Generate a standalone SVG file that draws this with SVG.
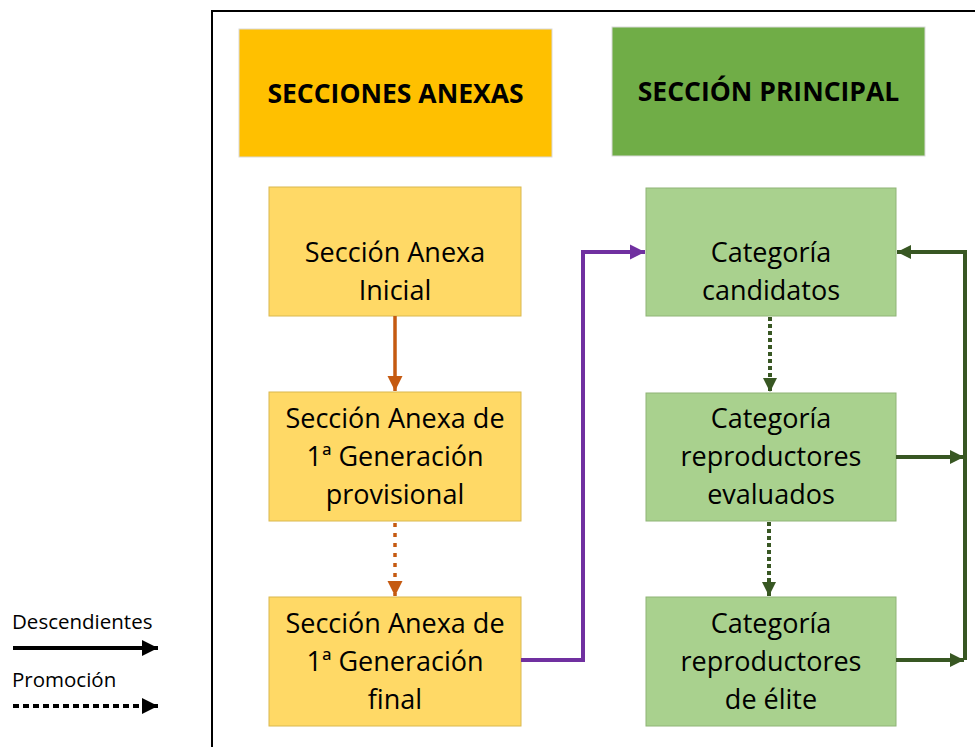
<svg xmlns="http://www.w3.org/2000/svg" width="975" height="747" viewBox="0 0 975 747">
<style>
text{font-family:"Open Sans","Liberation Sans",sans-serif;fill:#000}
.t{font-size:27px;text-anchor:middle}
.h{font-size:26.5px;font-weight:bold;text-anchor:middle}
.l{font-size:20.5px}
.y{fill:#FFD966;stroke:#D9B84F;stroke-width:1}
.g{fill:#A9D18E;stroke:#8FB476;stroke-width:1}
</style>
<defs>
<marker id="mo" viewBox="0 0 10 10" refX="10" refY="5" markerWidth="4.3" markerHeight="4.3" markerUnits="strokeWidth" orient="auto"><path d="M0,0L10,5L0,10z" fill="#C55A11"/></marker>
<marker id="mp" viewBox="0 0 10 10" refX="10" refY="5" markerWidth="3.8" markerHeight="3.8" markerUnits="strokeWidth" orient="auto"><path d="M0,0L10,5L0,10z" fill="#7030A0"/></marker>
<marker id="mg" viewBox="0 0 10 10" refX="10" refY="5" markerWidth="3.6" markerHeight="3.6" markerUnits="strokeWidth" orient="auto"><path d="M0,0L10,5L0,10z" fill="#385723"/></marker>
<marker id="mb" viewBox="0 0 10 10" refX="10" refY="5" markerWidth="4" markerHeight="4" markerUnits="strokeWidth" orient="auto"><path d="M0,0L10,5L0,10z" fill="#000"/></marker>
</defs>
<rect x="212" y="11" width="800" height="800" fill="none" stroke="#000" stroke-width="2"/>
<g id="anexas">
<rect x="239" y="29" width="313" height="128" fill="#FFC000" stroke="#D9D9D9"/>
<text class="h" x="395.5" y="103">SECCIONES ANEXAS</text>
</g>
<g id="principal">
<rect x="612" y="27" width="313" height="129" fill="#70AD47" stroke="#D9D9D9"/>
<text class="h" x="768.5" y="101">SECCIÓN PRINCIPAL</text>
</g>
<g id="a1">
<rect class="y" x="269" y="187" width="252" height="129"/>
<text class="t" x="395" y="262">Sección Anexa</text>
<text class="t" x="395" y="300">Inicial</text>
</g>
<g id="a2">
<rect class="y" x="269" y="392" width="252" height="129"/>
<text class="t" x="395" y="428">Sección Anexa de</text>
<text class="t" x="395" y="466">1ª Generación</text>
<text class="t" x="395" y="504">provisional</text>
</g>
<g id="a3">
<rect class="y" x="269" y="597" width="252" height="129"/>
<text class="t" x="395" y="633">Sección Anexa de</text>
<text class="t" x="395" y="671">1ª Generación</text>
<text class="t" x="395" y="709">final</text>
</g>
<g id="p1">
<rect class="g" x="646" y="188" width="250" height="128"/>
<text class="t" x="771" y="262">Categoría</text>
<text class="t" x="771" y="300">candidatos</text>
</g>
<g id="p2">
<rect class="g" x="646" y="393" width="250" height="128"/>
<text class="t" x="771" y="428">Categoría</text>
<text class="t" x="771" y="466">reproductores</text>
<text class="t" x="771" y="504">evaluados</text>
</g>
<g id="p3">
<rect class="g" x="646" y="597" width="250" height="129"/>
<text class="t" x="771" y="633">Categoría</text>
<text class="t" x="771" y="671">reproductores</text>
<text class="t" x="771" y="709">de élite</text>
</g>
<g id="connectors" fill="none">
<line x1="395" y1="316" x2="395" y2="391" stroke="#C55A11" stroke-width="3.5" marker-end="url(#mo)"/>
<line x1="395" y1="523" x2="395" y2="596" stroke="#C55A11" stroke-width="3.5" stroke-dasharray="4 6" marker-end="url(#mo)"/>
<polyline points="521,660 583,660 583,252 645,252" stroke="#7030A0" stroke-width="4" marker-end="url(#mp)"/>
<line x1="770" y1="317" x2="770" y2="392" stroke="#385723" stroke-width="4" stroke-dasharray="4 3" marker-end="url(#mg)"/>
<line x1="769" y1="522" x2="769" y2="596" stroke="#385723" stroke-width="4" stroke-dasharray="4 3" marker-end="url(#mg)"/>
<polyline points="965,660 965,252 897,252" stroke="#385723" stroke-width="4" marker-end="url(#mg)"/>
<line x1="896" y1="457" x2="964" y2="457" stroke="#385723" stroke-width="4" marker-end="url(#mg)"/>
<line x1="896" y1="660" x2="964" y2="660" stroke="#385723" stroke-width="4" marker-end="url(#mg)"/>
</g>
<g id="legend">
<text class="l" x="12" y="629">Descendientes</text>
<line x1="13" y1="648" x2="158" y2="648" stroke="#000" stroke-width="4" marker-end="url(#mb)"/>
<text class="l" x="12" y="687">Promoción</text>
<line x1="13" y1="706" x2="158" y2="706" stroke="#000" stroke-width="4" stroke-dasharray="6 4" marker-end="url(#mb)"/>
</g>
</svg>
